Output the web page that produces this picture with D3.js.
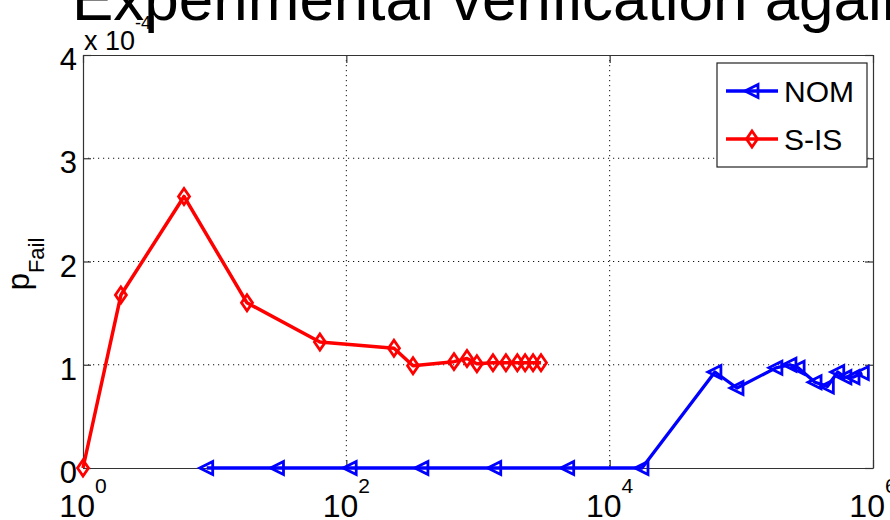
<!DOCTYPE html>
<html>
<head>
<meta charset="utf-8">
<script src="https://cdn.jsdelivr.net/npm/d3@7"></script>
<style>
  html, body { margin: 0; padding: 0; background: #fff; overflow: hidden; }
  svg { display: block; font-family: "Liberation Sans", Arial, Helvetica, sans-serif; }
</style>
</head>
<body>
<svg id="chart" width="890" height="520"></svg>
<script>
// ---- data (y values in units of 1e-4) ----
const titleText = "Experimental verification against simulation";
const nomX = [8.7, 30, 107, 375, 1340, 4800, 17600, 63000, 92700, 183000, 234000, 270000, 363000, 450000, 540000, 612000, 705000, 830000];
const nomY = [0, 0, 0, 0, 0, 0, 0, 0.93, 0.775, 0.97, 1.0, 0.97, 0.83, 0.79, 0.93, 0.88, 0.88, 0.92];
const sisX = [1, 1.94, 5.85, 17.6, 63, 230, 321, 657, 825, 981, 1300, 1630, 1990, 2280, 2620, 3010];
const sisY = [0, 1.675, 2.63, 1.60, 1.22, 1.16, 0.99, 1.03, 1.06, 1.01, 1.02, 1.02, 1.02, 1.02, 1.02, 1.02];
const xTicks = [1, 1e2, 1e4, 1e6];
const xTickExp = ["0", "2", "4", "6"];
const yTicks = [0, 1, 2, 3, 4];
const xGrid = [1e2, 1e4];
const yGrid = [1, 2, 3];
const seriesNames = ["NOM", "S-IS"];
const seriesColors = ["#0000ff", "#ff0000"];

const svg = d3.select("#chart");
const L = 83, R = 873, T = 55, B = 468;
const x = d3.scaleLog().domain([1, 1e6]).range([L, R]);
const y = d3.scaleLinear().domain([0, 4]).range([B, T]);

// title (clipped at top like the reference)
svg.append("text").attr("x", 72).attr("y", 20)
  .attr("font-size", 62).attr("fill", "#000").text(titleText);

// grid
const g = svg.append("g");
g.selectAll("line.gx").data(xGrid).join("line")
  .attr("x1", d => x(d)).attr("x2", d => x(d)).attr("y1", T).attr("y2", B)
  .attr("stroke", "#111").attr("stroke-width", 1).attr("stroke-dasharray", "1.2,3.8");
g.selectAll("line.gy").data(yGrid).join("line")
  .attr("x1", L).attr("x2", R).attr("y1", d => y(d)).attr("y2", d => y(d))
  .attr("stroke", "#111").attr("stroke-width", 1).attr("stroke-dasharray", "1.2,3.8");

// axes with inward ticks on all sides
function styleAxis(sel) {
  sel.selectAll("path").attr("stroke", "#333").attr("stroke-width", 1.2);
  sel.selectAll("line").attr("stroke", "#333").attr("stroke-width", 1.2);
  sel.selectAll("text").remove();
}
svg.append("g").attr("transform", `translate(0,${B})`)
  .call(d3.axisBottom(x).tickValues(xTicks).tickSizeInner(-8).tickSizeOuter(0).tickFormat(""))
  .call(styleAxis);
svg.append("g").attr("transform", `translate(0,${T})`)
  .call(d3.axisTop(x).tickValues(xTicks).tickSizeInner(-8).tickSizeOuter(0).tickFormat(""))
  .call(styleAxis);
svg.append("g").attr("transform", `translate(${L},0)`)
  .call(d3.axisLeft(y).tickValues(yTicks).tickSizeInner(-8).tickSizeOuter(0).tickFormat(""))
  .call(styleAxis);
svg.append("g").attr("transform", `translate(${R},0)`)
  .call(d3.axisRight(y).tickValues(yTicks).tickSizeInner(-8).tickSizeOuter(0).tickFormat(""))
  .call(styleAxis);

// y tick labels
svg.selectAll("text.yl").data(yTicks).join("text")
  .attr("x", 77).attr("y", d => y(d) + 15)
  .attr("text-anchor", "end").attr("font-size", 31).attr("fill", "#000")
  .text(d => d);

// x tick labels: 10^n
xTicks.forEach((t, i) => {
  const tx = svg.append("text").attr("x", x(t)).attr("y", 517)
    .attr("text-anchor", "middle").attr("font-size", 32).attr("fill", "#000");
  tx.append("tspan").text("10");
  tx.append("tspan").attr("dy", -24).attr("font-size", 21).text(xTickExp[i]);
});

// exponent multiplier
const mult = svg.append("text").attr("x", 84).attr("y", 50).attr("font-size", 27).attr("fill", "#000");
mult.append("tspan").text("x 10");
mult.append("tspan").attr("dy", -21).attr("font-size", 18).text("-4");

// y label p_Fail
const yl = svg.append("text").attr("transform", "translate(29,264) rotate(-90)")
  .attr("text-anchor", "middle").attr("font-size", 31).attr("fill", "#000");
yl.append("tspan").text("p");
yl.append("tspan").attr("dy", 15).attr("font-size", 22).text("Fail");

// markers
function diamond(sel, color) {
  sel.attr("d", "M0,-8L5.5,0L0,8L-5.5,0Z").attr("fill", "none")
    .attr("stroke", color).attr("stroke-width", 2.8);
}
function triLeft(sel, color) {
  sel.attr("d", "M-7,0L6,-6.5L6,6.5Z").attr("fill", "none")
    .attr("stroke", color).attr("stroke-width", 2.8).attr("stroke-linejoin", "miter");
}

const line = d3.line().x(d => x(d[0])).y(d => y(d[1]));
const nom = nomX.map((v, i) => [v, nomY[i]]);
const sis = sisX.map((v, i) => [v, sisY[i]]);

svg.append("path").datum(nom).attr("d", line).attr("fill", "none")
  .attr("stroke", seriesColors[0]).attr("stroke-width", 3.3).attr("stroke-linejoin", "round");
svg.selectAll("path.mn").data(nom).join("path").attr("class", "mn")
  .attr("transform", d => `translate(${x(d[0])},${y(d[1])})`).call(triLeft, seriesColors[0]);

svg.append("path").datum(sis).attr("d", line).attr("fill", "none")
  .attr("stroke", seriesColors[1]).attr("stroke-width", 3.5).attr("stroke-linejoin", "round");
svg.selectAll("path.ms").data(sis).join("path").attr("class", "ms")
  .attr("transform", d => `translate(${x(d[0])},${y(d[1])})`).call(diamond, seriesColors[1]);

// legend
const lg = svg.append("g");
lg.append("rect").attr("x", 717).attr("y", 63).attr("width", 150).attr("height", 104)
  .attr("fill", "#fff").attr("stroke", "#222").attr("stroke-width", 1.2);
const legY = [91, 139];
seriesNames.forEach((name, i) => {
  lg.append("line").attr("x1", 726).attr("x2", 778).attr("y1", legY[i]).attr("y2", legY[i])
    .attr("stroke", seriesColors[i]).attr("stroke-width", 3.3);
  lg.append("path").attr("transform", `translate(752,${legY[i]})`)
    .call(i === 0 ? triLeft : diamond, seriesColors[i]);
  lg.append("text").attr("x", 784).attr("y", legY[i] + 11)
    .attr("font-size", 30).attr("fill", "#000").text(name);
});
</script>
</body>
</html>
